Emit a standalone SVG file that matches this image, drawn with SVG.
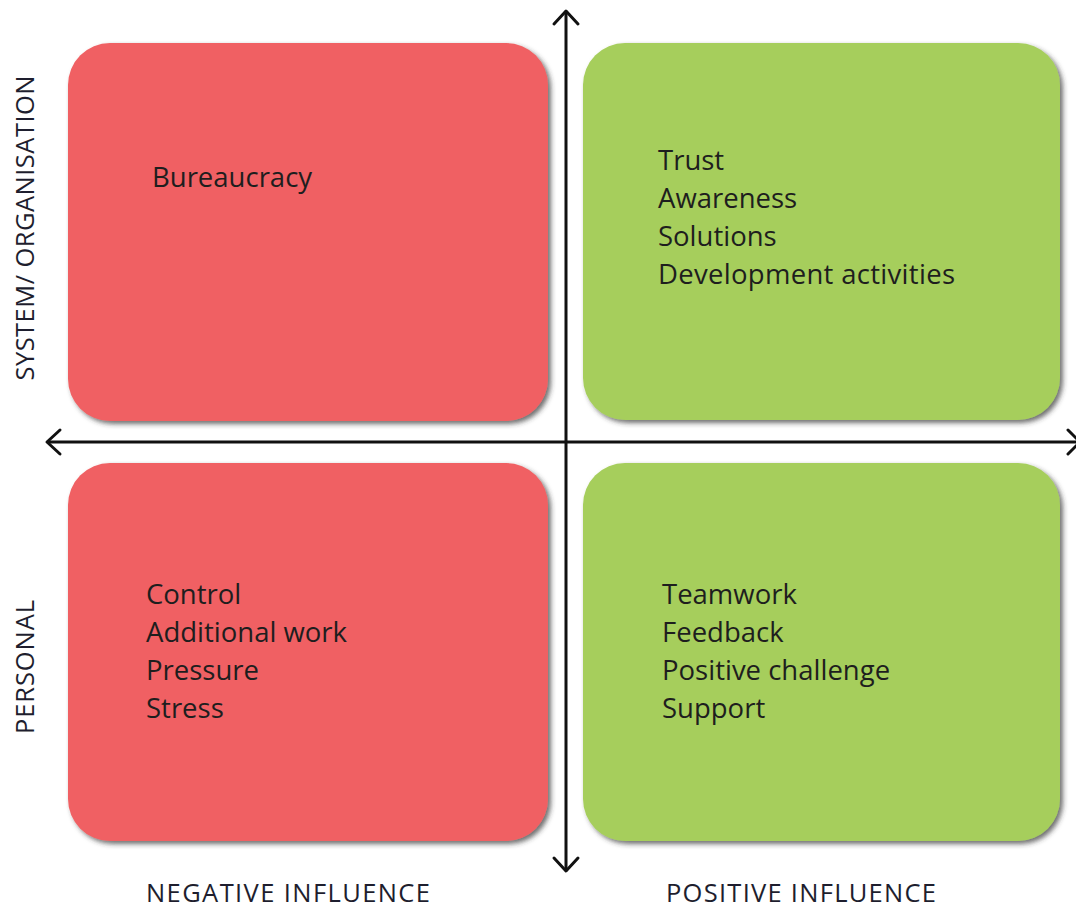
<svg xmlns="http://www.w3.org/2000/svg" width="1076" height="909" viewBox="0 0 1076 909">
<style>
.red{fill:#f06163}
.green{fill:#a6ce5c}
.box{filter:url(#sh)}
.t{font-family:"Open Sans","Liberation Sans",sans-serif;font-size:27.5px;fill:#1e1e1e}
.ax{font-family:"Open Sans","Liberation Sans",sans-serif;font-size:25.5px;fill:#1e1e2e}
.axis{stroke:#111;stroke-width:3;fill:none}
.head{stroke:#111;stroke-width:3;fill:none;stroke-linecap:round;stroke-linejoin:round}
</style>
<defs>
<filter id="sh" x="-5%" y="-5%" width="115%" height="115%">
<feDropShadow dx="3" dy="3" stdDeviation="2.5" flood-color="#333" flood-opacity="0.7"/>
</filter>
</defs>
<rect width="1076" height="909" fill="#fff"/>
<g id="q-tl"><rect class="box red" x="68" y="43" width="480" height="378" rx="42"/>
<text class="t" x="152" y="187">Bureaucracy</text></g>
<g id="q-tr"><rect class="box green" x="583" y="43" width="477" height="377" rx="42"/>
<text class="t" x="658" y="170">Trust</text>
<text class="t" x="658" y="208">Awareness</text>
<text class="t" x="658" y="246">Solutions</text>
<text class="t" x="658" y="284" textLength="297">Development activities</text></g>
<g id="q-bl"><rect class="box red" x="68" y="463" width="480" height="378" rx="42"/>
<text class="t" x="146" y="604">Control</text>
<text class="t" x="146" y="642">Additional work</text>
<text class="t" x="146" y="680">Pressure</text>
<text class="t" x="146" y="718">Stress</text></g>
<g id="q-br"><rect class="box green" x="583" y="463" width="477" height="378" rx="42"/>
<text class="t" x="662" y="604">Teamwork</text>
<text class="t" x="662" y="642">Feedback</text>
<text class="t" x="662" y="680">Positive challenge</text>
<text class="t" x="662" y="718">Support</text></g>
<g id="connectors">
<line class="axis" x1="566" y1="11" x2="566" y2="871"/>
<polyline class="head" points="554,24 566,11 578,24"/>
<polyline class="head" points="554,858 566,871 578,858"/>
<line class="axis" x1="47" y1="442" x2="1076" y2="442"/>
<polyline class="head" points="60,430 47,442 60,454"/>
<polyline class="head" points="1068,430 1080,442 1068,454"/>
</g>
<g id="labels">
<text class="ax" x="288" y="902" text-anchor="middle" textLength="284">NEGATIVE INFLUENCE</text>
<text class="ax" x="801" y="902" text-anchor="middle" textLength="270">POSITIVE INFLUENCE</text>
<text class="ax" transform="translate(34,228) rotate(-90)" text-anchor="middle" textLength="305">SYSTEM/ ORGANISATION</text>
<text class="ax" transform="translate(34,667) rotate(-90)" text-anchor="middle" textLength="134">PERSONAL</text>
</g>
</svg>
